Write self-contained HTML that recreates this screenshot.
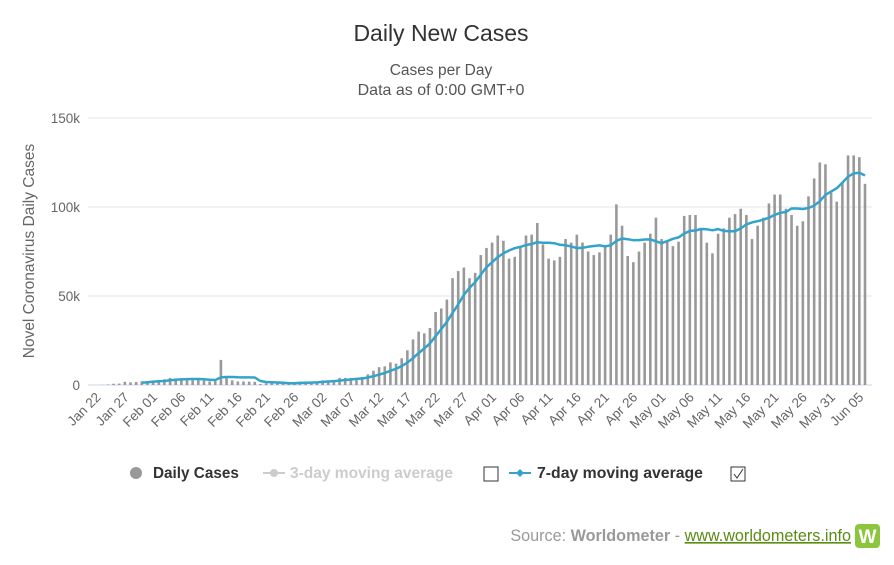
<!DOCTYPE html>
<html><head><meta charset="utf-8"><style>
body{margin:0;background:#fff;width:894px;height:560px;overflow:hidden;font-family:"Liberation Sans",sans-serif}
svg text{font-family:"Liberation Sans",sans-serif}
</style></head><body>
<svg id="c" width="894" height="560">
<text x="441" y="41" text-anchor="middle" font-size="23" fill="#333">Daily New Cases</text>
<text x="441" y="75" text-anchor="middle" font-size="15.5" fill="#555">Cases per Day</text>
<text x="441" y="95" text-anchor="middle" font-size="16" fill="#555">Data as of 0:00 GMT+0</text>
<text transform="translate(34,251) rotate(-90)" text-anchor="middle" font-size="15.5" fill="#666">Novel Coronavirus Daily Cases</text>
<g id="grid"></g><g id="bars"></g><g id="line"></g><g id="xl"></g>
<g>
<g><circle cx="136" cy="473" r="6" fill="#999"/><text x="153" y="478" font-size="15.3" font-weight="bold" fill="#333">Daily Cases</text></g>
<g><line x1="263" y1="473" x2="285" y2="473" stroke="#ccc" stroke-width="2"/><circle cx="274" cy="473" r="4" fill="#ccc"/><text x="290" y="478" font-size="15.5" font-weight="bold" fill="#ccc">3-day moving average</text></g>
<rect x="484" y="467" width="14" height="14" fill="#fff" stroke="#333"/>
<g><line x1="509" y1="473" x2="531" y2="473" stroke="#33a3cc" stroke-width="2"/><path d="M520 469 L524 473 L520 477 L516 473Z" fill="#33a3cc"/><text x="537" y="478" font-size="15.8" font-weight="bold" fill="#333">7-day moving average</text></g>
<rect x="731" y="467" width="14" height="14" fill="#fff" stroke="#333"/>
<path d="M734 474 L737 478 L743 469" fill="none" stroke="#333" stroke-width="1"/>
</g>
<g>
<text x="851" y="541" text-anchor="end" font-size="16.2" fill="#999"><tspan>Source: </tspan><tspan font-weight="bold">Worldometer</tspan><tspan> - </tspan><tspan fill="#5b8c13" text-decoration="underline">www.worldometers.info</tspan></text>
<rect x="855" y="524" width="25" height="24" rx="4" fill="#8cc63f"/>
<text x="867.5" y="543" text-anchor="middle" font-size="19" font-weight="bold" fill="#fff">W</text>
</g>
</svg>
<script>
const startDate = [2020,0,22];
const dailyCases = [0,100,300,700,800,1800,1500,1700,2100,2000,
2600,2800,3200,3900,3700,3700,3400,2700,3000,2500,2000,2200,14100,5000,2600,2000,2000,1900,1800,600,1000,1500,1000,800,900,1300,1900,1700,
1900,1900,2600,2400,2800,4000,4000,4000,4000,4500,
6000,8000,10000,10500,12700,12000,15000,19500,25600,30000,29000,32000,41000,43000,48000,60000,64000,66000,60000,63000,73000,77000,80000,84000,81000,71000,72000,78000,84000,84500,91000,79000,71000,70000,72000,82000,80000,84500,80000,75000,73000,74500,78000,84500,101500,
89500,72500,69000,75000,80000,85000,94000,82000,81000,78000,80500,95000,95500,95500,88000,80000,74000,85000,88000,94000,96000,99000,95500,82000,89500,94000,102000,107000,107000,99000,95500,89500,92000,106000,116000,125000,124000,108000,103000,114000,129000,129000,128000,113000];
const yTicks = [0,50000,100000,150000];
const yTickLabels = ["0","50k","100k","150k"];
const maStart = 8;
const NS="http://www.w3.org/2000/svg";
const X1=865,Y0=385,Y1=118,YMAX=150000;
const n=dailyCases.length;
const step=5.65;
const x=i=>X1-(n-1-i)*step;
const y=v=>Y0-v/YMAX*(Y0-Y1);
function mk(tag,attrs,parent){const e=document.createElementNS(NS,tag);for(const k in attrs)e.setAttribute(k,attrs[k]);parent.appendChild(e);return e;}
const grid=document.getElementById('grid');
yTicks.forEach((t,i)=>{
 const l=mk('line',{x1:88,x2:872,y1:y(t),y2:y(t),stroke:i==0?'#ccd6eb':'#e6e6e6','stroke-width':1},grid);
 
 
 const tx=mk('text',{x:80,y:y(t)+5,'text-anchor':'end','font-size':13.5,fill:'#666'},grid);
 tx.textContent=yTickLabels[i];
 
 
});
const bars=document.getElementById('bars');
dailyCases.forEach((v,i)=>{
 const r=mk('rect',{x:x(i)-1.3,y:y(v),width:2.6,height:Math.max(0,Y0-y(v)),fill:'#999'},bars);
 
 
});
let pts=[];
for(let i=maStart;i<n;i++){let s=0,c=0;for(let j=Math.max(0,i-6);j<=i;j++){s+=dailyCases[j];c++;}pts.push(x(i).toFixed(1)+','+y(s/c).toFixed(1));}
const pl=mk('polyline',{points:pts.join(' '),fill:'none',stroke:'#33a3cc','stroke-width':2.5,'stroke-linejoin':'round'},document.getElementById('line'));


const mon=["Jan","Feb","Mar","Apr","May","Jun"];
const xl=document.getElementById('xl');
for(let i=0;i<n;i+=5){
 const d=new Date(startDate[0],startDate[1],startDate[2]+i);
 const lab=mon[d.getMonth()]+' '+String(d.getDate()).padStart(2,'0');
 const t=mk('text',{transform:`translate(${x(i)+5},${398}) rotate(-45)`,'text-anchor':'end','font-size':13.5,fill:'#666'},xl);
 t.textContent=lab;
 
 
}
</script>
</body></html>
